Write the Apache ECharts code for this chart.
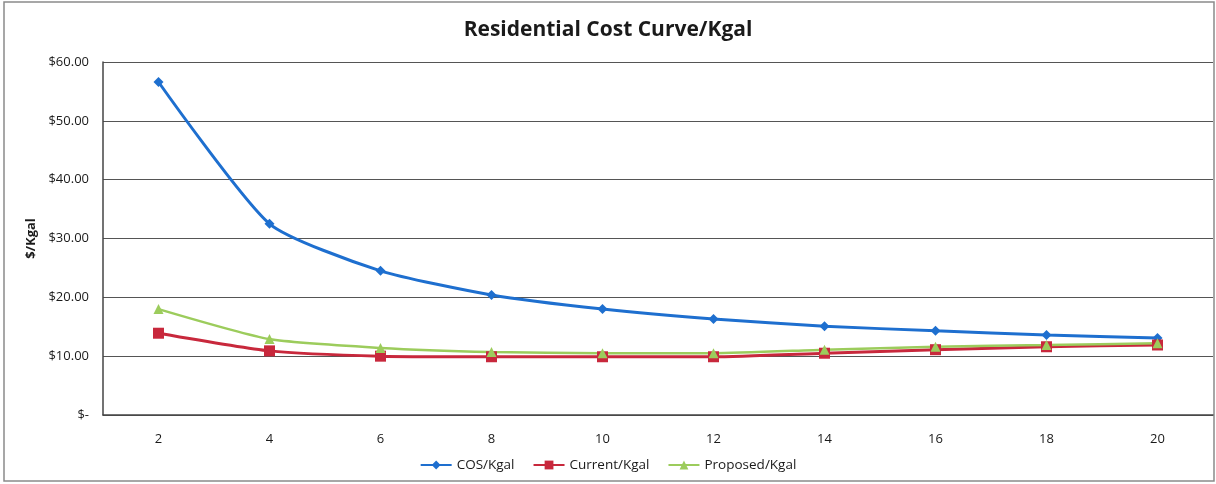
<!DOCTYPE html>
<html>
<head>
<meta charset="utf-8">
<script src="https://cdn.jsdelivr.net/npm/echarts@6/dist/echarts.min.js"></script>
<style>
  html, body { margin: 0; padding: 0; background: #fff; }
  #chart { width: 1216px; height: 484px; }
</style>
</head>
<body>
<div id="chart"></div>
<script>
var categories = ['2', '4', '6', '8', '10', '12', '14', '16', '18', '20'];
var cosValues = [56.6, 32.5, 24.5, 20.4, 18.0, 16.3, 15.1, 14.3, 13.6, 13.1];
var currentValues = [13.9, 10.9, 10.0, 9.9, 9.9, 9.9, 10.5, 11.1, 11.6, 11.9];
var proposedValues = [18.0, 12.9, 11.4, 10.7, 10.5, 10.5, 11.1, 11.6, 11.9, 12.2];

var chart = echarts.init(document.getElementById('chart'));

var font = 'Open Sans, Liberation Sans, sans-serif';

var option = {
    backgroundColor: '#fff',
    animation: false,
    textStyle: { fontFamily: font },
    title: {
        text: 'Residential Cost Curve/Kgal',
        left: 'center',
        top: 15,
        textStyle: { fontSize: 21, fontWeight: 'bold', color: '#1a1a1a', fontFamily: font }
    },
    graphic: [
        {
            type: 'rect',
            shape: { x: 4, y: 2, width: 1210, height: 479 },
            style: { fill: 'none', stroke: '#8a8a8a', lineWidth: 1.5 },
            silent: true
        }
    ],
    legend: {
        bottom: 7,
        left: 'center',
        itemWidth: 31,
        itemHeight: 11,
        itemGap: 18,
        textStyle: { fontSize: 13.5, color: '#1a1a1a' },
        data: ['COS/Kgal', 'Current/Kgal', 'Proposed/Kgal']
    },
    grid: { left: 103, right: 3, top: 62, bottom: 69 },
    xAxis: {
        type: 'category',
        data: categories,
        boundaryGap: true,
        axisLine: { lineStyle: { color: '#444', width: 1.5 } },
        axisTick: { show: false },
        axisLabel: { fontSize: 13, color: '#1a1a1a', margin: 18 }
    },
    yAxis: {
        type: 'value',
        min: 0,
        max: 60,
        interval: 10,
        name: '$/Kgal',
        nameLocation: 'middle',
        nameGap: 62,
        nameTextStyle: { fontSize: 13, fontWeight: 'bold', color: '#1a1a1a' },
        axisLine: { show: true, lineStyle: { color: '#444', width: 1.5 } },
        axisTick: { show: false },
        splitLine: { lineStyle: { color: '#555', width: 1.2 } },
        axisLabel: {
            fontSize: 13,
            color: '#1a1a1a',
            margin: 14,
            formatter: function (v) { return v === 0 ? '$-' : '$' + v.toFixed(2); }
        }
    },
    series: [
        {
            name: 'COS/Kgal',
            type: 'line',
            data: cosValues,
            smooth: 0.2,
            symbol: 'diamond',
            symbolSize: 10,
            itemStyle: { color: '#1e6fcf' },
            lineStyle: { color: '#1e6fcf', width: 3 }
        },
        {
            name: 'Current/Kgal',
            type: 'line',
            data: currentValues,
            smooth: 0.2,
            symbol: 'rect',
            symbolSize: 11,
            itemStyle: { color: '#c8283c' },
            lineStyle: { color: '#c8283c', width: 3 }
        },
        {
            name: 'Proposed/Kgal',
            type: 'line',
            data: proposedValues,
            smooth: 0.2,
            symbol: 'triangle',
            symbolSize: 10,
            itemStyle: { color: '#9ccc5c' },
            lineStyle: { color: '#9ccc5c', width: 2.5 }
        }
    ]
};

chart.setOption(option);

window.onresize = function () {
    chart.resize();
};
</script>
</body>
</html>
